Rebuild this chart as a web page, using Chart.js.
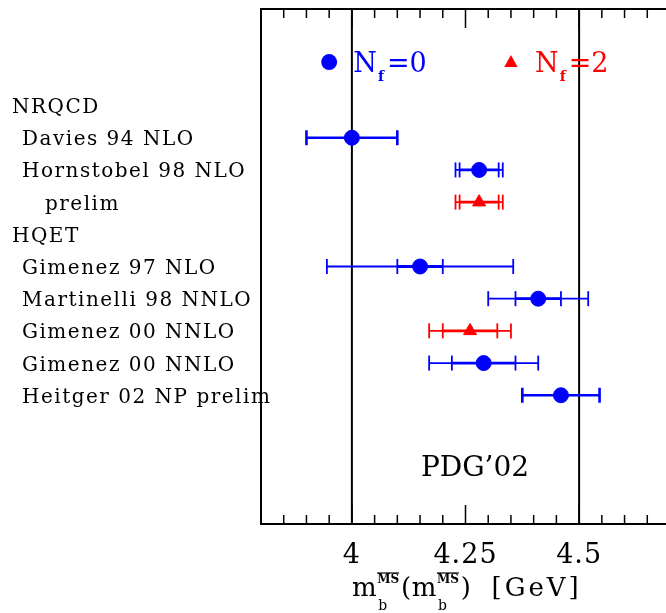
<!DOCTYPE html>
<html>
<head>
<meta charset="utf-8">
<script src="https://cdn.jsdelivr.net/npm/chart.js@4/dist/chart.umd.min.js"></script>
<style>
  html, body { margin: 0; padding: 0; background: #fff; overflow: hidden; }
  #wrap { width: 680px; height: 613px; }
</style>
</head>
<body>
<div id="wrap"><canvas id="myChart" width="680" height="613"></canvas></div>
<script>
// rows of the plot, top to bottom (row index = y value)
const rowLabels = ["NRQCD", "Davies 94 NLO", "Hornstobel 98 NLO", "prelim", "HQET",
  "Gimenez 97 NLO", "Martinelli 98 NNLO", "Gimenez 00 NNLO", "Gimenez 00 NNLO", "Heitger 02 NP prelim"];
const rowIndent = [0, 1, 1, 2, 0, 1, 1, 1, 1, 1];

// m_b(m_b) in GeV, null for the header rows
const massValues = [null, 4.00, 4.28, 4.28, null, 4.15, 4.41, 4.26, 4.29, 4.46];
const nfValues   = [null, 0, 0, 2, null, 0, 0, 2, 0, 0];
const errInner   = [null, 0.10, 0.043, 0.043, null, 0.05, 0.05, 0.06, 0.07, 0.085];
const errOuter   = [null, null, 0.052, 0.052, null, 0.205, 0.11, 0.09, 0.12, null];

const tickValues = [4, 4.25, 4.5];
const tickLabels = ["4", "4.25", "4.5"];

const BLUE = "#0000ff";
const RED = "#ff0000";
const serif = '"DejaVu Serif", serif';

function pointsFor(nf) {
  const pts = [];
  massValues.forEach((m, i) => {
    if (m !== null && nfValues[i] === nf) pts.push({ x: m, y: i });
  });
  return pts;
}

function cap(ctx, px, py) {
  ctx.beginPath();
  ctx.moveTo(px, py - 7.5);
  ctx.lineTo(px, py + 7.5);
  ctx.stroke();
}

function hline(ctx, x1, x2, py, lw) {
  ctx.lineWidth = lw;
  ctx.beginPath();
  ctx.moveTo(x1, py);
  ctx.lineTo(x2, py);
  ctx.stroke();
}

const pdgPlot = {
  id: "pdgPlot",
  beforeDatasetsDraw(chart) {
    const { ctx, chartArea: a, scales: { x, y } } = chart;
    ctx.save();
    ctx.strokeStyle = "#000";
    ctx.lineWidth = 2;
    ctx.strokeRect(a.left, a.top, a.right - a.left, a.bottom - a.top);

    // full height lines at 4 and 4.5
    [4, 4.5].forEach(v => {
      const px = x.getPixelForValue(v);
      ctx.beginPath();
      ctx.moveTo(px, a.top);
      ctx.lineTo(px, a.bottom);
      ctx.stroke();
    });

    // inward tick marks every 0.05
    ctx.lineWidth = 1.5;
    for (let k = 77; k <= 93; k++) {
      const px = x.getPixelForValue(k * 0.05);
      const len = k % 5 === 0 ? 19 : 9;
      ctx.beginPath();
      ctx.moveTo(px, a.top);
      ctx.lineTo(px, a.top + len);
      ctx.moveTo(px, a.bottom);
      ctx.lineTo(px, a.bottom - len);
      ctx.stroke();
    }

    // error bars
    massValues.forEach((m, i) => {
      if (m === null) return;
      const py = y.getPixelForValue(i);
      ctx.strokeStyle = nfValues[i] === 2 ? RED : BLUE;
      const hasOuter = errOuter[i] !== null;
      if (hasOuter) {
        const l = x.getPixelForValue(m - errOuter[i]);
        const r = x.getPixelForValue(m + errOuter[i]);
        hline(ctx, l, r, py, 1.8);
        ctx.lineWidth = 1.8;
        cap(ctx, l, py);
        cap(ctx, r, py);
      }
      const l = x.getPixelForValue(m - errInner[i]);
      const r = x.getPixelForValue(m + errInner[i]);
      hline(ctx, l, r, py, hasOuter ? 2.8 : 2.6);
      ctx.lineWidth = hasOuter ? 1.8 : 2.6;
      cap(ctx, l, py);
      cap(ctx, r, py);
    });
    ctx.restore();
  },
  afterDraw(chart) {
    const { ctx, chartArea: a, scales: { x, y } } = chart;
    ctx.save();
    ctx.fillStyle = "#000";
    ctx.textBaseline = "alphabetic";

    // row labels on the left
    const indentPx = [12, 22, 45];
    ctx.font = "20px " + serif;
    ctx.letterSpacing = "1.5px";
    ctx.textAlign = "left";
    rowLabels.forEach((t, i) => {
      ctx.fillText(t, indentPx[rowIndent[i]], y.getPixelForValue(i) + 7.5);
    });

    // x tick labels
    ctx.font = "27px " + serif;
    ctx.letterSpacing = "1px";
    ctx.textAlign = "center";
    tickValues.forEach((v, i) => {
      ctx.fillText(tickLabels[i], x.getPixelForValue(v), a.bottom + 39);
    });

    // PDG'02
    ctx.font = "28px " + serif;
    ctx.letterSpacing = "0px";
    ctx.fillText("PDG\u201902", x.getPixelForValue(4.271), y.getPixelForValue(11.21) + 10);

    // legend
    const ly = y.getPixelForValue(-1.35);
    const drawNf = (x0, color, digit) => {
      ctx.fillStyle = color;
      ctx.textAlign = "left";
      ctx.font = "27px " + serif;
      ctx.fillText("N", x0, ly + 10);
      const w = ctx.measureText("N").width;
      ctx.font = "bold 14px " + serif;
      ctx.fillText("f", x0 + w + 1, ly + 19);
      ctx.font = "27px " + serif;
      ctx.fillText("=" + digit, x0 + w + 10, ly + 10);
    };
    ctx.fillStyle = BLUE;
    ctx.beginPath();
    ctx.arc(x.getPixelForValue(3.95), ly, 8, 0, Math.PI * 2);
    ctx.fill();
    drawNf(x.getPixelForValue(4.003), BLUE, "0");
    const tx = x.getPixelForValue(4.35);
    ctx.fillStyle = RED;
    ctx.beginPath();
    ctx.moveTo(tx, ly - 7);
    ctx.lineTo(tx + 6.7, ly + 5);
    ctx.lineTo(tx - 6.7, ly + 5);
    ctx.closePath();
    ctx.fill();
    drawNf(x.getPixelForValue(4.403), RED, "2");

    // axis title: m_b^MS(m_b^MS) [GeV]
    ctx.fillStyle = "#000";
    ctx.textAlign = "left";
    const base = 596;
    let cx = 352;
    const main = (t, size, sp) => {
      ctx.font = size + "px " + serif;
      ctx.letterSpacing = sp + "px";
      ctx.fillText(t, cx, base);
      cx += ctx.measureText(t).width;
    };
    const stack = () => {
      ctx.letterSpacing = "0px";
      ctx.font = "14px " + serif;
      ctx.fillText("b", cx + 1, base + 14);
      ctx.font = "bold 12px " + serif;
      ctx.fillText("MS", cx, base - 13);
      const w = ctx.measureText("MS").width;
      ctx.lineWidth = 1.2;
      ctx.strokeStyle = "#000";
      ctx.beginPath();
      ctx.moveTo(cx, base - 23);
      ctx.lineTo(cx + w, base - 23);
      ctx.stroke();
      cx += w + 2;
    };
    main("m", 26, 0.5);
    stack();
    main("(m", 26, 0.5);
    stack();
    main(")", 26, 0.5);
    cx += 20;
    main("[GeV]", 26, 3);
    ctx.restore();
  }
};

const ctx = document.getElementById("myChart").getContext("2d");
const myChart = new Chart(ctx, {
  type: "scatter",
  data: {
    datasets: [
      {
        label: "Nf=0",
        data: pointsFor(0),
        pointStyle: "circle",
        pointRadius: 7.5,
        backgroundColor: BLUE,
        borderColor: BLUE,
        borderWidth: 1,
      },
      {
        label: "Nf=2",
        data: pointsFor(2),
        pointStyle: "triangle",
        pointRadius: 7.5,
        backgroundColor: RED,
        borderColor: RED,
        borderWidth: 1,
      },
    ],
  },
  options: {
    responsive: false,
    animation: false,
    events: [],
    layout: { padding: { left: 261, top: 9, right: 10, bottom: 89 } },
    plugins: {
      legend: { display: false },
      tooltip: { enabled: false },
    },
    scales: {
      x: { type: "linear", min: 3.8, max: 4.7, display: false },
      y: { type: "linear", min: -3, max: 13, reverse: true, display: false },
    },
  },
  plugins: [pdgPlot],
});
</script>
</body>
</html>
